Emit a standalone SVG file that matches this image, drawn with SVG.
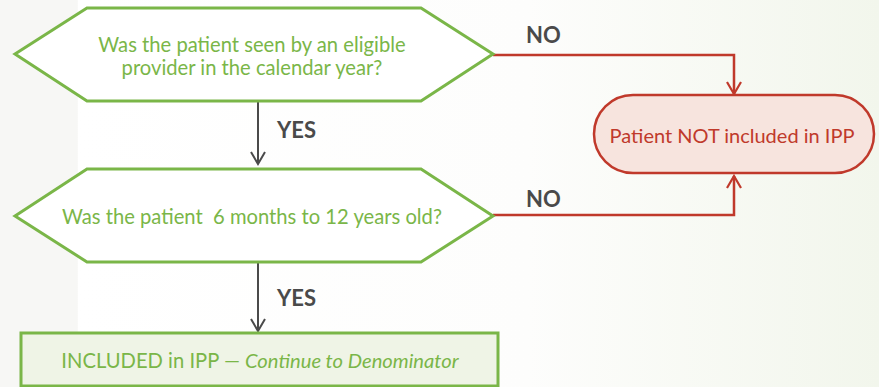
<svg xmlns="http://www.w3.org/2000/svg" width="879" height="387" viewBox="0 0 879 387">
  <defs>
    <linearGradient id="bg" x1="0" y1="0" x2="1" y2="0">
      <stop offset="0" stop-color="#f7f7f5"/>
      <stop offset="0.088" stop-color="#f7f7f5"/>
      <stop offset="0.089" stop-color="#ffffff"/>
      <stop offset="0.6" stop-color="#fdfdfc"/>
      <stop offset="1" stop-color="#f2f6ec"/>
    </linearGradient>
    <marker id="arrGray" viewBox="0 0 24 16" refX="22" refY="8" markerWidth="24" markerHeight="16" markerUnits="userSpaceOnUse" orient="auto">
      <path d="M10,1 L22,8 L10,15" fill="none" stroke="#4a4a4a" stroke-width="2"/>
    </marker>
    <marker id="arrRed" viewBox="0 0 24 16" refX="22" refY="8" markerWidth="24" markerHeight="16" markerUnits="userSpaceOnUse" orient="auto">
      <path d="M10,1 L22,8 L10,15" fill="none" stroke="#c0392b" stroke-width="2.2"/>
    </marker>
  </defs>
  <style>
    .hex { fill: #ffffff; stroke: #7ab648; stroke-width: 3; }
    .q { font-family: Lato, "Liberation Sans", sans-serif; font-size: 20.2px; fill: #7ab648; text-anchor: middle; }
    .lbl { font-family: Lato, "Liberation Sans", sans-serif; font-size: 22px; font-weight: bold; fill: #4a4a4a; }
    .yes { fill: none; stroke: #4a4a4a; stroke-width: 2; }
    .no { fill: none; stroke: #c0392b; stroke-width: 2.5; }
    .redbox { fill: #f7e4de; stroke: #c0392b; stroke-width: 2.5; }
    .redtxt { font-family: Lato, "Liberation Sans", sans-serif; font-size: 20px; fill: #c0392b; text-anchor: middle; }
    .greenbox { fill: #eff4e6; stroke: #7ab648; stroke-width: 3; }
  </style>
  <rect x="0" y="0" width="879" height="387" fill="url(#bg)"/>

  <g id="connectors">
    <line class="yes" x1="258" y1="102" x2="258" y2="164" marker-end="url(#arrGray)"/>
    <line class="yes" x1="258" y1="263" x2="258" y2="331" marker-end="url(#arrGray)"/>
    <polyline class="no" points="493,55 734,55 734,94" marker-end="url(#arrRed)"/>
    <polyline class="no" points="493,215 734,215 734,176" marker-end="url(#arrRed)"/>
    <text class="lbl" x="277" y="138">YES</text>
    <text class="lbl" x="277" y="306">YES</text>
    <text class="lbl" x="526" y="43">NO</text>
    <text class="lbl" x="526" y="207">NO</text>
  </g>

  <g id="q1">
    <polygon class="hex" points="15,54 87,8 421,8 493,54 421,101 87,101"/>
    <text class="q" x="252" y="52">Was the patient seen by an eligible</text>
    <text class="q" x="252" y="75">provider in the calendar year?</text>
  </g>

  <g id="q2">
    <polygon class="hex" points="15,216 87,169 421,169 493,216 421,262 87,262"/>
    <text class="q" x="252" y="224" xml:space="preserve">Was the patient  6 months to 12 years old?</text>
  </g>

  <g id="excluded">
    <rect class="redbox" x="594" y="95" width="280" height="78" rx="39" ry="39"/>
    <text class="redtxt" x="732" y="143">Patient NOT included in IPP</text>
  </g>

  <g id="included">
    <rect class="greenbox" x="21" y="333" width="477" height="53"/>
    <text class="q" x="260" y="368">INCLUDED in IPP — <tspan font-style="italic">Continue to Denominator</tspan></text>
  </g>
</svg>
